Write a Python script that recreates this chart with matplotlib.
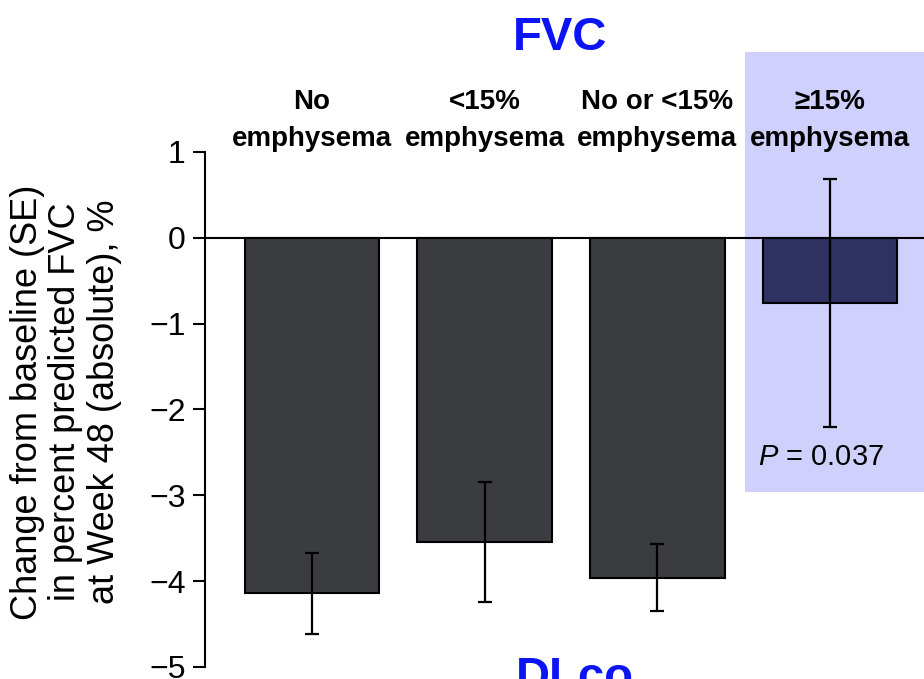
import matplotlib
matplotlib.use('Agg')
import matplotlib.pyplot as plt
import matplotlib.transforms as mtransforms
from matplotlib.patches import Rectangle

plt.rcParams['font.family'] = ['Liberation Sans', 'DejaVu Sans']
plt.rcParams['mathtext.fontset'] = 'custom'
plt.rcParams['mathtext.it'] = 'Liberation Sans:italic'
plt.rcParams['mathtext.rm'] = 'Liberation Sans'

groups = ['No\nemphysema', '<15%\nemphysema', 'No or <15%\nemphysema', '≥15%\nemphysema']
change = [-4.14, -3.54, -3.96, -0.76]
se = [0.47, 0.70, 0.39, 1.45]
yticks = [1, 0, -1, -2, -3, -4, -5]
p_text = '$P$ = 0.037'

bar_colors = ['#3b3c40', '#3b3c40', '#3b3c40', '#2f3161']

fig = plt.figure(figsize=(9.24, 6.79), dpi=100)
ax = fig.add_axes([0.2219, 0.0177, 0.7781, 0.7585])
ax.patch.set_visible(False)
ax.set_zorder(2)

# highlighted panel for the >=15% group
fig.patches.append(Rectangle((745 / 924, 1 - 492 / 679), 179 / 924, 440 / 679,
                             transform=fig.transFigure, facecolor='#d0d0fc',
                             edgecolor='none', zorder=-1))

x = list(range(len(groups)))
ax.bar(x, change, width=0.78, color=bar_colors, edgecolor='black', linewidth=1.5, zorder=2)
ax.errorbar(x, change, yerr=se, fmt='none', ecolor='black', elinewidth=1.6,
            capsize=5, capthick=1.6, zorder=3)
ax.axhline(0, color='black', linewidth=1.5, zorder=4)

ax.set_xlim(-0.62, 3.545)
ax.set_ylim(-5, 1)
ax.set_yticks(yticks)
ax.set_xticks([])
for s in ['top', 'right', 'bottom']:
    ax.spines[s].set_visible(False)
ax.spines['left'].set_linewidth(1.5)
ax.tick_params(axis='y', length=9, width=1.5, labelsize=23, pad=5)

trans = mtransforms.blended_transform_factory(ax.transData, ax.transAxes)
for xi, g in zip(x, groups):
    ax.text(xi, 1.0, g, transform=trans, ha='center', va='bottom',
            fontsize=20, fontweight='bold', linespacing=1.55, clip_on=False)

ax.text(x[3] - 0.05, -2.55, p_text, ha='center', va='center', fontsize=21)

fig.text(66 / 924, 0.408, 'Change from baseline (SE)\nin percent predicted FVC\nat Week 48 (absolute), %',
         rotation=90, ha='center', va='center', multialignment='center',
         fontsize=26, linespacing=1.12)

fig.text(560 / 924, 1 - 50 / 679, 'FVC', ha='center', va='baseline',
         fontsize=34, fontweight='bold', color='#0a14f5')
fig.text(575 / 924, 1 - 690 / 679, 'DLco', ha='center', va='baseline',
         fontsize=34, fontweight='bold', color='#0a14f5')

fig.savefig('out.png', dpi=100)
